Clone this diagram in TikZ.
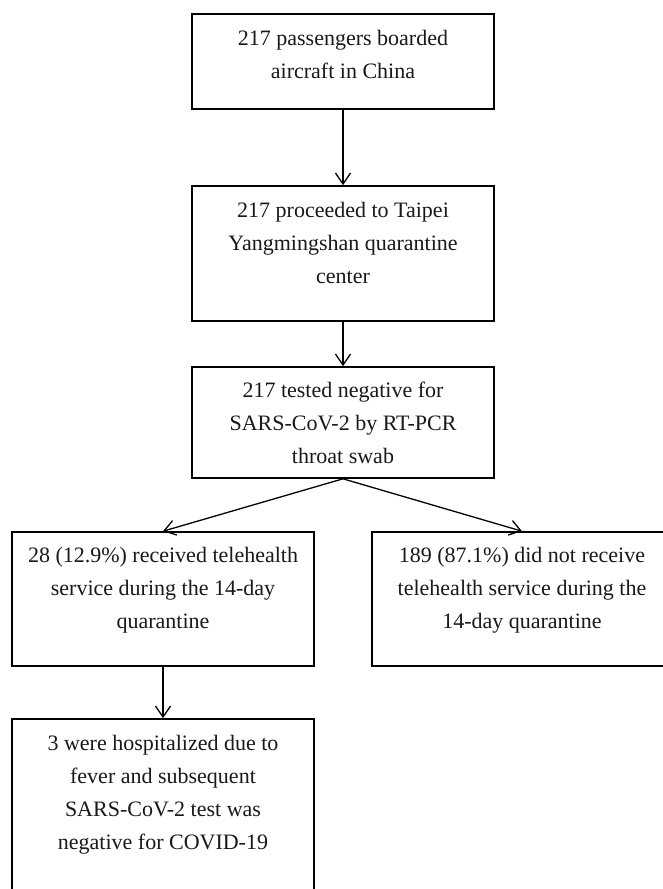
\documentclass[tikz,border=0pt]{standalone}
\usepackage{fontspec}
\setmainfont{Liberation Serif}
\usetikzlibrary{arrows.meta}
\begin{document}
\begin{tikzpicture}[x=1pt,y=-1pt,
  box/.style={draw=black, line width=1.6pt, rectangle, inner sep=0pt, minimum width=302pt},
  txt/.style={align=center, inner sep=0pt, anchor=north, text=black!90, font=\fontsize{22}{33}\selectfont},
  arr/.style={draw=black, line width=1.3pt, -{Straight Barb[length=11pt,width=15pt,line width=1.3pt]}}]
\useasboundingbox (0,0) rectangle (663,889);
\fill[white] (0,0) rectangle (663,889);
% boxes
\node[box, minimum height=95pt]  (b1) at (343,61.5) {};
\node[box, minimum height=135pt] (b2) at (343,253.5) {};
\node[box, minimum height=111pt] (b3) at (343,422.5) {};
\node[box, minimum height=134pt] (b4) at (163,599) {};
\node[box, minimum height=134pt, minimum width=300pt] (b5) at (522,599) {};
\node[box, minimum height=176pt] (b6) at (163,807) {};
% texts
\node[txt] (t1) at ([yshift=-17pt]b1.north) {217 passengers boarded\\aircraft in China};
\node[txt] (t2) at ([yshift=-17pt]b2.north) {217 proceeded to Taipei\\Yangmingshan quarantine\\center};
\node[txt] (t3) at ([yshift=-16pt]b3.north) {217 tested negative for\\SARS-CoV-2 by RT-PCR\\throat swab};
\node[txt] (t4) at ([yshift=-16pt]b4.north) {28 (12.9\%) received telehealth\\service during the 14-day\\quarantine};
\node[txt] (t5) at ([yshift=-16pt]b5.north) {189 (87.1\%) did not receive\\telehealth service during the\\14-day quarantine};
\node[txt] (t6) at ([yshift=-17pt]b6.north) {3 were hospitalized due to\\fever and subsequent\\SARS-CoV-2 test was\\negative for COVID-19};
% connectors
\draw[arr] (b1.south) -- (b2.north);
\draw[arr] (b2.south) -- (b3.north);
\draw[arr] (b3.south) -- (b4.north);
\draw[arr] (b3.south) -- (b5.north);
\draw[arr] (b4.south) -- (b6.north);
\end{tikzpicture}
\end{document}
